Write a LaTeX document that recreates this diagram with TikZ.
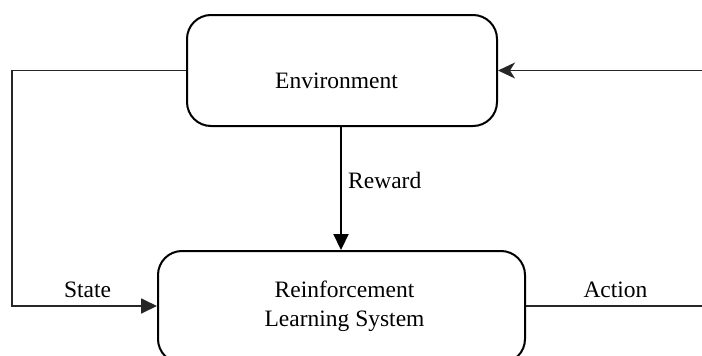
\documentclass[tikz,border=0pt]{standalone}
\usepackage{fontspec}
\setmainfont{Liberation Serif}
\usetikzlibrary{arrows.meta}
\begin{document}
\begin{tikzpicture}[x=1pt,y=-1pt,
  box/.style={draw=black, line width=2pt, rounded corners=24pt, inner sep=0pt},
  conn/.style={draw=black!85, line width=1.8pt},
  lbl/.style={inner sep=0pt, font=\fontsize{23.5}{28}\selectfont, anchor=base},
  tip/.style={-{Triangle[length=16pt,width=15pt]}},
  stip/.style={-{Stealth[length=17pt,width=16pt,inset=5pt]}}]
\useasboundingbox (0,0) rectangle (702,356);
\clip (0,0) rectangle (702,356);
\node[box, minimum width=310pt, minimum height=111pt] (env) at (342,70.5) {};
\node[box, minimum width=367pt, minimum height=112pt] (rl) at (341.5,307) {};
\node[lbl] (envt) at (336.5,88) {Environment};
\node[lbl] (rlt1) at (344.5,297) {Reinforcement};
\node[lbl] (rlt2) at (344.5,326) {Learning System};
\node[lbl, anchor=base west] (rew) at (348,188) {Reward};
\node[lbl] (st) at (87.5,297) {State};
\node[lbl] (act) at (615.5,297) {Action};
\coordinate (lt) at (12,70.5);
\coordinate (lb) at (12,306);
\coordinate (rt) at (702,70.5);
\coordinate (rb) at (702,306);
\draw[conn, tip] (env.west) -- (lt) -- (lb) -- (rl.west |- lb);
\draw[conn, stip] (rt) -- (env.east);
\draw[line width=2.2pt, tip] (env.south -| 341,0) -- (rl.north -| 341,0);
\draw[conn] (rl.east |- rb) -- (rb);
\end{tikzpicture}
\end{document}
